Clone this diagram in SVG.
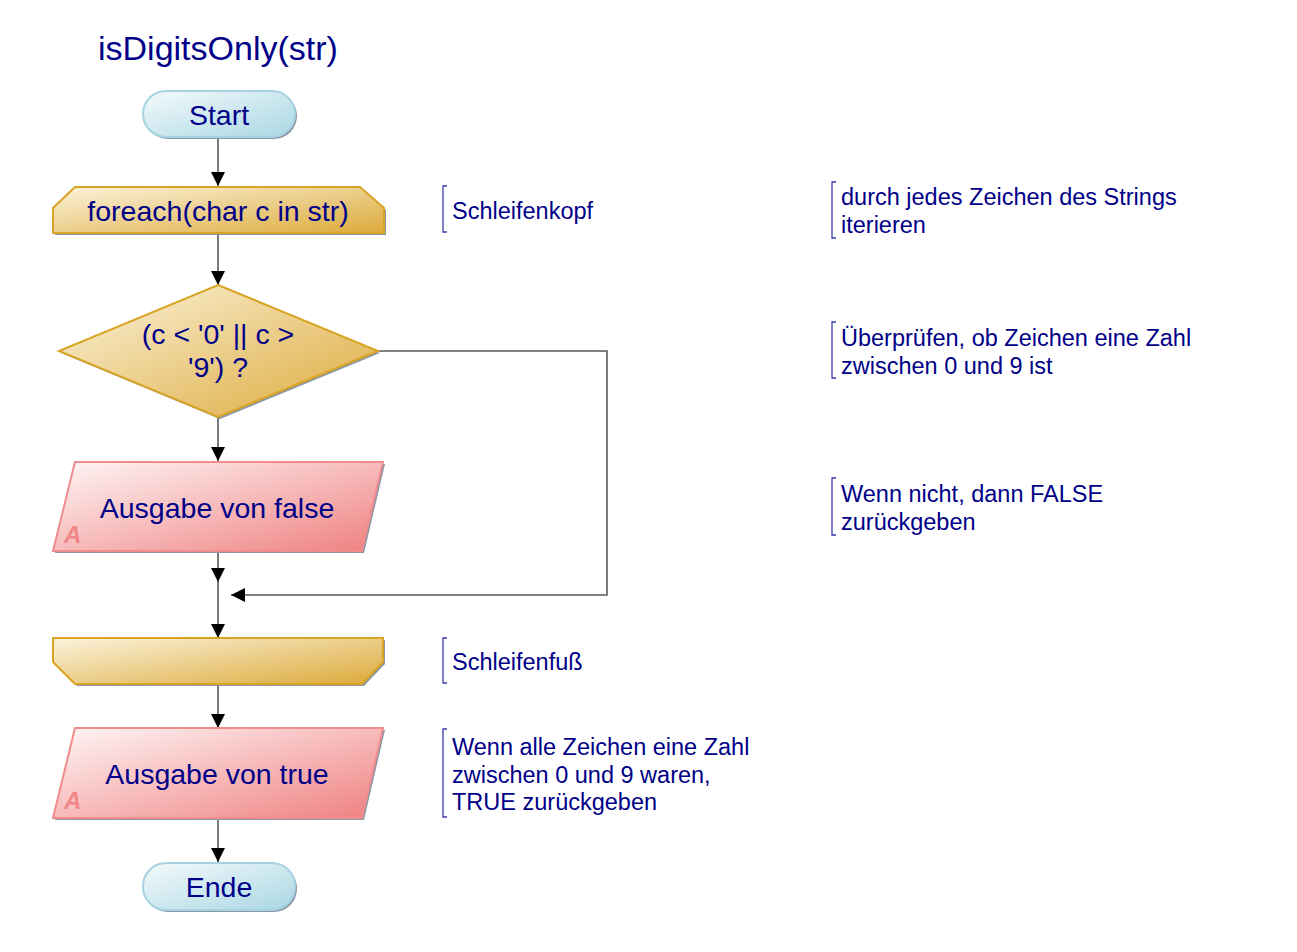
<svg xmlns="http://www.w3.org/2000/svg" width="1297" height="952" viewBox="0 0 1297 952">
<defs>
<linearGradient id="gTerm" x1="0" y1="0" x2="1" y2="1">
<stop offset="0" stop-color="#f4fafc"/><stop offset="1" stop-color="#a9d7e3"/>
</linearGradient>
<linearGradient id="gGold" x1="0" y1="0" x2="1" y2="1">
<stop offset="0" stop-color="#fcf3dc"/><stop offset="1" stop-color="#dcaa3a"/>
</linearGradient>
<linearGradient id="gRed" x1="0" y1="0" x2="1" y2="1">
<stop offset="0" stop-color="#fff6f6"/><stop offset="1" stop-color="#ef8080"/>
</linearGradient>
<marker id="arr" markerWidth="16" markerHeight="16" refX="14" refY="7.5" orient="auto" markerUnits="userSpaceOnUse">
<path d="M0,0.5 L14,7.5 L0,14.5 Z" fill="#000"/>
</marker>
</defs>
<style>
.t{font-family:"Liberation Sans",Arial,sans-serif;fill:#000088;}
.n{font-size:28.5px;text-anchor:middle;}
.c{font-size:23.5px;}
.term{fill:url(#gTerm);stroke:#a6d3e2;stroke-width:2;}
.gold{fill:url(#gGold);stroke:#d9a424;stroke-width:2;}
.red{fill:url(#gRed);stroke:#f08c8c;stroke-width:2;}
.sh{fill:#8a98a8;}
.mk{font-family:"Liberation Sans",Arial,sans-serif;font-size:24px;font-weight:bold;font-style:italic;fill:#f08686;}
.ln{fill:none;stroke:#5a5a5a;stroke-width:1.6;}
.br{fill:none;stroke:#3a3ab0;stroke-width:1.3;}
</style>
<text class="t" x="98" y="60" font-size="34">isDigitsOnly(str)</text>
<g id="connectors">
<line class="ln" x1="218" y1="138" x2="218" y2="186" marker-end="url(#arr)"/>
<line class="ln" x1="218" y1="234" x2="218" y2="285" marker-end="url(#arr)"/>
<line class="ln" x1="218" y1="418" x2="218" y2="461" marker-end="url(#arr)"/>
<line class="ln" x1="218" y1="553" x2="218" y2="582" marker-end="url(#arr)"/>
<polyline class="ln" points="379,351 607,351 607,595 231,595" marker-end="url(#arr)"/>
<line class="ln" x1="218" y1="582" x2="218" y2="638" marker-end="url(#arr)"/>
<line class="ln" x1="218" y1="685" x2="218" y2="728" marker-end="url(#arr)"/>
<line class="ln" x1="218" y1="819" x2="218" y2="862" marker-end="url(#arr)"/>
</g>
<g id="start">
<rect class="sh" x="145" y="93" width="152" height="46" rx="23"/>
<rect class="term" x="143" y="91" width="152" height="46" rx="23"/>
<text class="t n" x="219" y="125">Start</text>
</g>
<g id="foreach">
<polygon class="sh" points="77,189 362,189 386,210 386,235 55,235 55,210"/>
<polygon class="gold" points="75,187 360,187 384,208 384,233 53,233 53,208"/>
<text class="t n" x="218" y="221">foreach(char c in str)</text>
</g>
<g id="decision">
<polygon class="sh" points="220,287 380,353 220,419 61,353"/>
<polygon class="gold" points="218,285 378,351 218,417 59,351"/>
<text class="t n" x="218" y="344">(c &lt; '0' || c &gt;</text>
<text class="t n" x="218" y="377">'9') ?</text>
</g>
<g id="outFalse">
<polygon class="sh" points="77,464 385,464 364,553 55,553"/>
<polygon class="red" points="75,462 383,462 362,551 53,551"/>
<text class="t n" x="217" y="518">Ausgabe von false</text>
<text class="mk" x="64" y="543">A</text>
</g>
<g id="foreachEnd">
<polygon class="sh" points="55,640 385,640 385,664 364,686 77,686 55,664"/>
<polygon class="gold" points="53,638 383,638 383,662 362,684 75,684 53,662"/>
</g>
<g id="outTrue">
<polygon class="sh" points="77,730 385,730 364,820 55,820"/>
<polygon class="red" points="75,728 383,728 362,818 53,818"/>
<text class="t n" x="217" y="784">Ausgabe von true</text>
<text class="mk" x="64" y="809">A</text>
</g>
<g id="ende">
<rect class="sh" x="145" y="865" width="152" height="47" rx="23"/>
<rect class="term" x="143" y="863" width="152" height="47" rx="23"/>
<text class="t n" x="219" y="897">Ende</text>
</g>
<g id="comments">
<path class="br" d="M447,186 L443,186 L443,232 L447,232"/>
<text class="t c" x="452" y="219">Schleifenkopf</text>
<path class="br" d="M836,182 L832,182 L832,238 L836,238"/>
<text class="t c" x="841" y="205">durch jedes Zeichen des Strings</text>
<text class="t c" x="841" y="233">iterieren</text>
<path class="br" d="M836,322 L832,322 L832,378 L836,378"/>
<text class="t c" x="841" y="346">Überprüfen, ob Zeichen eine Zahl</text>
<text class="t c" x="841" y="374">zwischen 0 und 9 ist</text>
<path class="br" d="M836,478 L832,478 L832,535 L836,535"/>
<text class="t c" x="841" y="502">Wenn nicht, dann FALSE</text>
<text class="t c" x="841" y="530">zurückgeben</text>
<path class="br" d="M447,638 L443,638 L443,683 L447,683"/>
<text class="t c" x="452" y="670">Schleifenfuß</text>
<path class="br" d="M447,729 L443,729 L443,817 L447,817"/>
<text class="t c" x="452" y="755">Wenn alle Zeichen eine Zahl</text>
<text class="t c" x="452" y="783">zwischen 0 und 9 waren,</text>
<text class="t c" x="452" y="810">TRUE zurückgeben</text>
</g>
</svg>
